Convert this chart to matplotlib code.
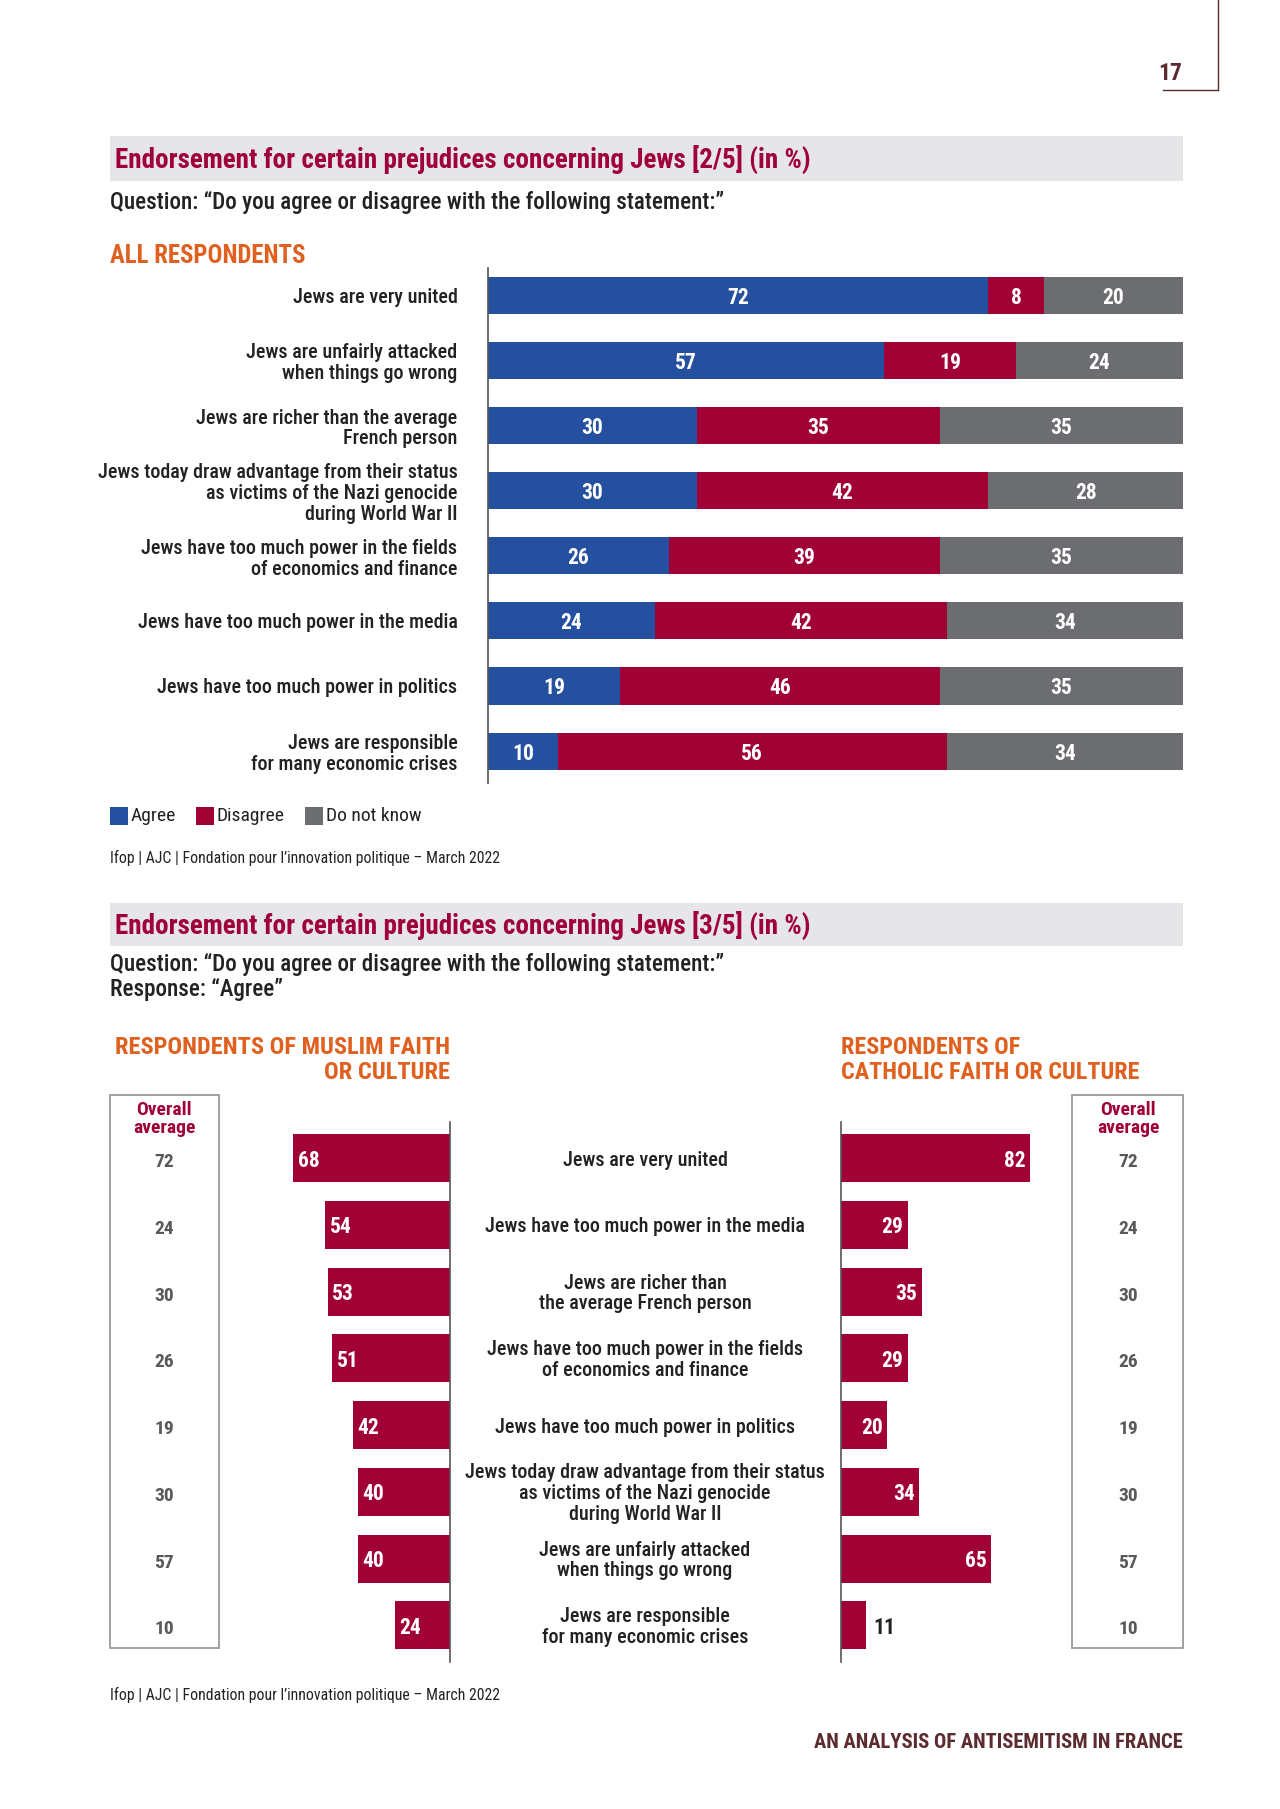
import matplotlib
matplotlib.use("Agg")
import matplotlib.pyplot as plt
from matplotlib.patches import Rectangle
from matplotlib.lines import Line2D
from matplotlib.transforms import blended_transform_factory

# ---------------- data ----------------
statements_all = [
    "Jews are very united",
    "Jews are unfairly attacked\nwhen things go wrong",
    "Jews are richer than the average\nFrench person",
    "Jews today draw advantage from their status\nas victims of the Nazi genocide\nduring World War II",
    "Jews have too much power in the fields\nof economics and finance",
    "Jews have too much power in the media",
    "Jews have too much power in politics",
    "Jews are responsible\nfor many economic crises",
]
agree = [72, 57, 30, 30, 26, 24, 19, 10]
disagree = [8, 19, 35, 42, 39, 42, 46, 56]
dont_know = [20, 24, 35, 28, 35, 34, 35, 34]

statements_faith = [
    "Jews are very united",
    "Jews have too much power in the media",
    "Jews are richer than\nthe average French person",
    "Jews have too much power in the fields\nof economics and finance",
    "Jews have too much power in politics",
    "Jews today draw advantage from their status\nas victims of the Nazi genocide\nduring World War II",
    "Jews are unfairly attacked\nwhen things go wrong",
    "Jews are responsible\nfor many economic crises",
]
muslim = [68, 54, 53, 51, 42, 40, 40, 24]
catholic = [82, 29, 35, 29, 20, 34, 65, 11]
overall = [72, 24, 30, 26, 19, 30, 57, 10]

# ---------------- style ----------------
# condensed face if there is one, else a plain sans
plt.rcParams['font.family'] = ['Roboto Condensed', 'Archivo Narrow', 'Liberation Sans', 'DejaVu Sans']
BLUE = '#254f9f'
RED = '#a00034'
GREY = '#6c6d70'
TITLE_RED = '#a0003a'
ORANGE = '#e0601f'
MAROON = '#5b2b30'
TXT = '#222222'
BAND = '#e6e6e8'

W, H = 1280, 1809
fig = plt.figure(figsize=(W / 100, H / 100), dpi=100, facecolor='white')


def fx(x):
    return x / W


def fy(y):
    return 1 - y / H


def add_ax(x0, y0, x1, y1):
    return fig.add_axes([fx(x0), fy(y1), (x1 - x0) / W, (y1 - y0) / H])


def ftext(x, y, s, **kw):
    fig.text(fx(x), fy(y), s, **kw)


# page corner and number
fig.add_artist(Line2D([fx(1218), fx(1218)], [fy(0), fy(90)], color=MAROON, lw=1))
fig.add_artist(Line2D([fx(1163), fx(1218)], [fy(90), fy(90)], color=MAROON, lw=1))
ftext(1170, 74, "17", fontsize=17, fontweight='bold', color=MAROON, ha='center', va='center')

# ================= chart 1 =================
fig.add_artist(Rectangle((fx(110), fy(181)), (1183 - 110) / W, 45 / H,
                         transform=fig.transFigure, color=BAND, lw=0))
ftext(115, 159, "Endorsement for certain prejudices concerning Jews [2/5] (in %)",
      fontsize=19.5, fontweight='bold', color=TITLE_RED, va='center')
ftext(110, 203, "Question: \u201cDo you agree or disagree with the following statement:\u201d",
      fontsize=16.7, fontweight='medium', color=TXT, va='center')
ftext(110, 256, "ALL RESPONDENTS", fontsize=17.8, fontweight='bold', color=ORANGE, va='center')

ax1 = add_ax(488, 268, 1183, 783)
pos = list(range(len(agree)))
left3 = [a + d for a, d in zip(agree, disagree)]
b1 = ax1.barh(pos, agree, height=0.57, color=BLUE, lw=0)
b2 = ax1.barh(pos, disagree, left=agree, height=0.57, color=RED, lw=0)
b3 = ax1.barh(pos, dont_know, left=left3, height=0.57, color=GREY, lw=0)
for bars in (b1, b2, b3):
    for t in ax1.bar_label(bars, label_type='center', color='white', fontsize=15.5,
                           fontweight='bold'):
        t.set_va('center_baseline')
ax1.set_xlim(0, 100)
ax1.set_ylim(len(agree) - 1 + 0.49, -0.42)
ax1.set_yticks(pos, statements_all, fontsize=14.5, fontweight='medium', color=TXT, linespacing=1.12)
ax1.tick_params(axis='y', length=0, pad=22)
ax1.set_xticks([])
for s in ('top', 'right', 'bottom'):
    ax1.spines[s].set_visible(False)
ax1.spines['left'].set_color('#555555')
ax1.spines['left'].set_linewidth(1.2)

# legend
for x0, col, lab in ((110, BLUE, "Agree"), (196, RED, "Disagree"), (305, GREY, "Do not know")):
    fig.add_artist(Rectangle((fx(x0), fy(825)), 18 / W, 18 / H,
                             transform=fig.transFigure, color=col, lw=0))
    ftext(x0 + 21, 816, lab, fontsize=14, color=TXT, va='center')

ftext(110, 858, "Ifop | AJC | Fondation pour l\u2019innovation politique \u2013 March 2022",
      fontsize=11.3, color=TXT, va='center')

# ================= chart 2 =================
fig.add_artist(Rectangle((fx(110), fy(946)), (1183 - 110) / W, 43 / H,
                         transform=fig.transFigure, color=BAND, lw=0))
ftext(115, 925, "Endorsement for certain prejudices concerning Jews [3/5] (in %)",
      fontsize=19.5, fontweight='bold', color=TITLE_RED, va='center')
ftext(110, 965, "Question: \u201cDo you agree or disagree with the following statement:\u201d",
      fontsize=16.7, fontweight='medium', color=TXT, va='center')
ftext(110, 990, "Response: \u201cAgree\u201d", fontsize=16.7, fontweight='medium', color=TXT, va='center')

ftext(450, 1060, "RESPONDENTS OF MUSLIM FAITH\nOR CULTURE", fontsize=17.6, fontweight='bold',
      color=ORANGE, ha='right', va='center', linespacing=1.1)
ftext(841, 1060, "RESPONDENTS OF\nCATHOLIC FAITH OR CULTURE", fontsize=17.4, fontweight='bold',
      color=ORANGE, ha='left', va='center', linespacing=1.1)

n = len(muslim)
rows = list(range(n))
ylim2 = (n - 1 + 0.55, -0.54)
BH = 0.72

axL = add_ax(219.2, 1122, 450, 1662)
barsL = axL.barh(rows, muslim, height=BH, color=RED, lw=0)
axL.set_xlim(100, 0)
axL.set_ylim(*ylim2)
for b, v in zip(barsL, muslim):
    axL.text(v - 2, b.get_y() + b.get_height() / 2, str(v), color='white', fontsize=15.5,
             fontweight='bold', ha='left', va='center_baseline')

axR = add_ax(841, 1122, 1071.8, 1662)
barsR = axR.barh(rows, catholic, height=BH, color=RED, lw=0)
axR.set_xlim(0, 100)
axR.set_ylim(*ylim2)
for b, v in zip(barsR, catholic):
    if v >= 15:
        axR.text(v - 2, b.get_y() + b.get_height() / 2, str(v), color='white', fontsize=15.5,
                 fontweight='bold', ha='right', va='center_baseline')
    else:
        axR.text(v + 3, b.get_y() + b.get_height() / 2, str(v), color=TXT, fontsize=15.5,
                 fontweight='bold', ha='left', va='center_baseline')

for a, side in ((axL, 'right'), (axR, 'left')):
    a.set_xticks([])
    a.set_yticks([])
    for s in ('top', 'right', 'bottom', 'left'):
        a.spines[s].set_visible(s == side)
    a.spines[side].set_color('#555555')
    a.spines[side].set_linewidth(1.2)

tr_mid = blended_transform_factory(fig.transFigure, axR.transData)
for i, s in enumerate(statements_faith):
    fig.text(fx(645), i + 0.03, s, transform=tr_mid, fontsize=14.5, fontweight='medium', color=TXT,
             ha='center', va='center', linespacing=1.12)

for cx, x0, x1 in ((164, 110, 219), (1128, 1072, 1183)):
    fig.add_artist(Rectangle((fx(x0), fy(1648)), (x1 - x0) / W, (1648 - 1095) / H,
                             transform=fig.transFigure, fill=False, ec='#9a9a9a', lw=1.3))
    ftext(cx, 1119, "Overall\naverage", fontsize=14, fontweight='bold', color=TITLE_RED,
          ha='center', va='center', linespacing=1.05)
    for i, v in enumerate(overall):
        fig.text(fx(cx), i + 0.03, str(v), transform=tr_mid, fontsize=14, fontweight='bold',
                 color='#59595b', ha='center', va='center_baseline')

ftext(110, 1695, "Ifop | AJC | Fondation pour l\u2019innovation politique \u2013 March 2022",
      fontsize=11.3, color=TXT, va='center')

ftext(1183, 1743, "AN ANALYSIS OF ANTISEMITISM IN FRANCE", fontsize=14.8, fontweight='bold',
      color=MAROON, ha='right', va='center')

fig.savefig('out.png', dpi=100, facecolor='white')
